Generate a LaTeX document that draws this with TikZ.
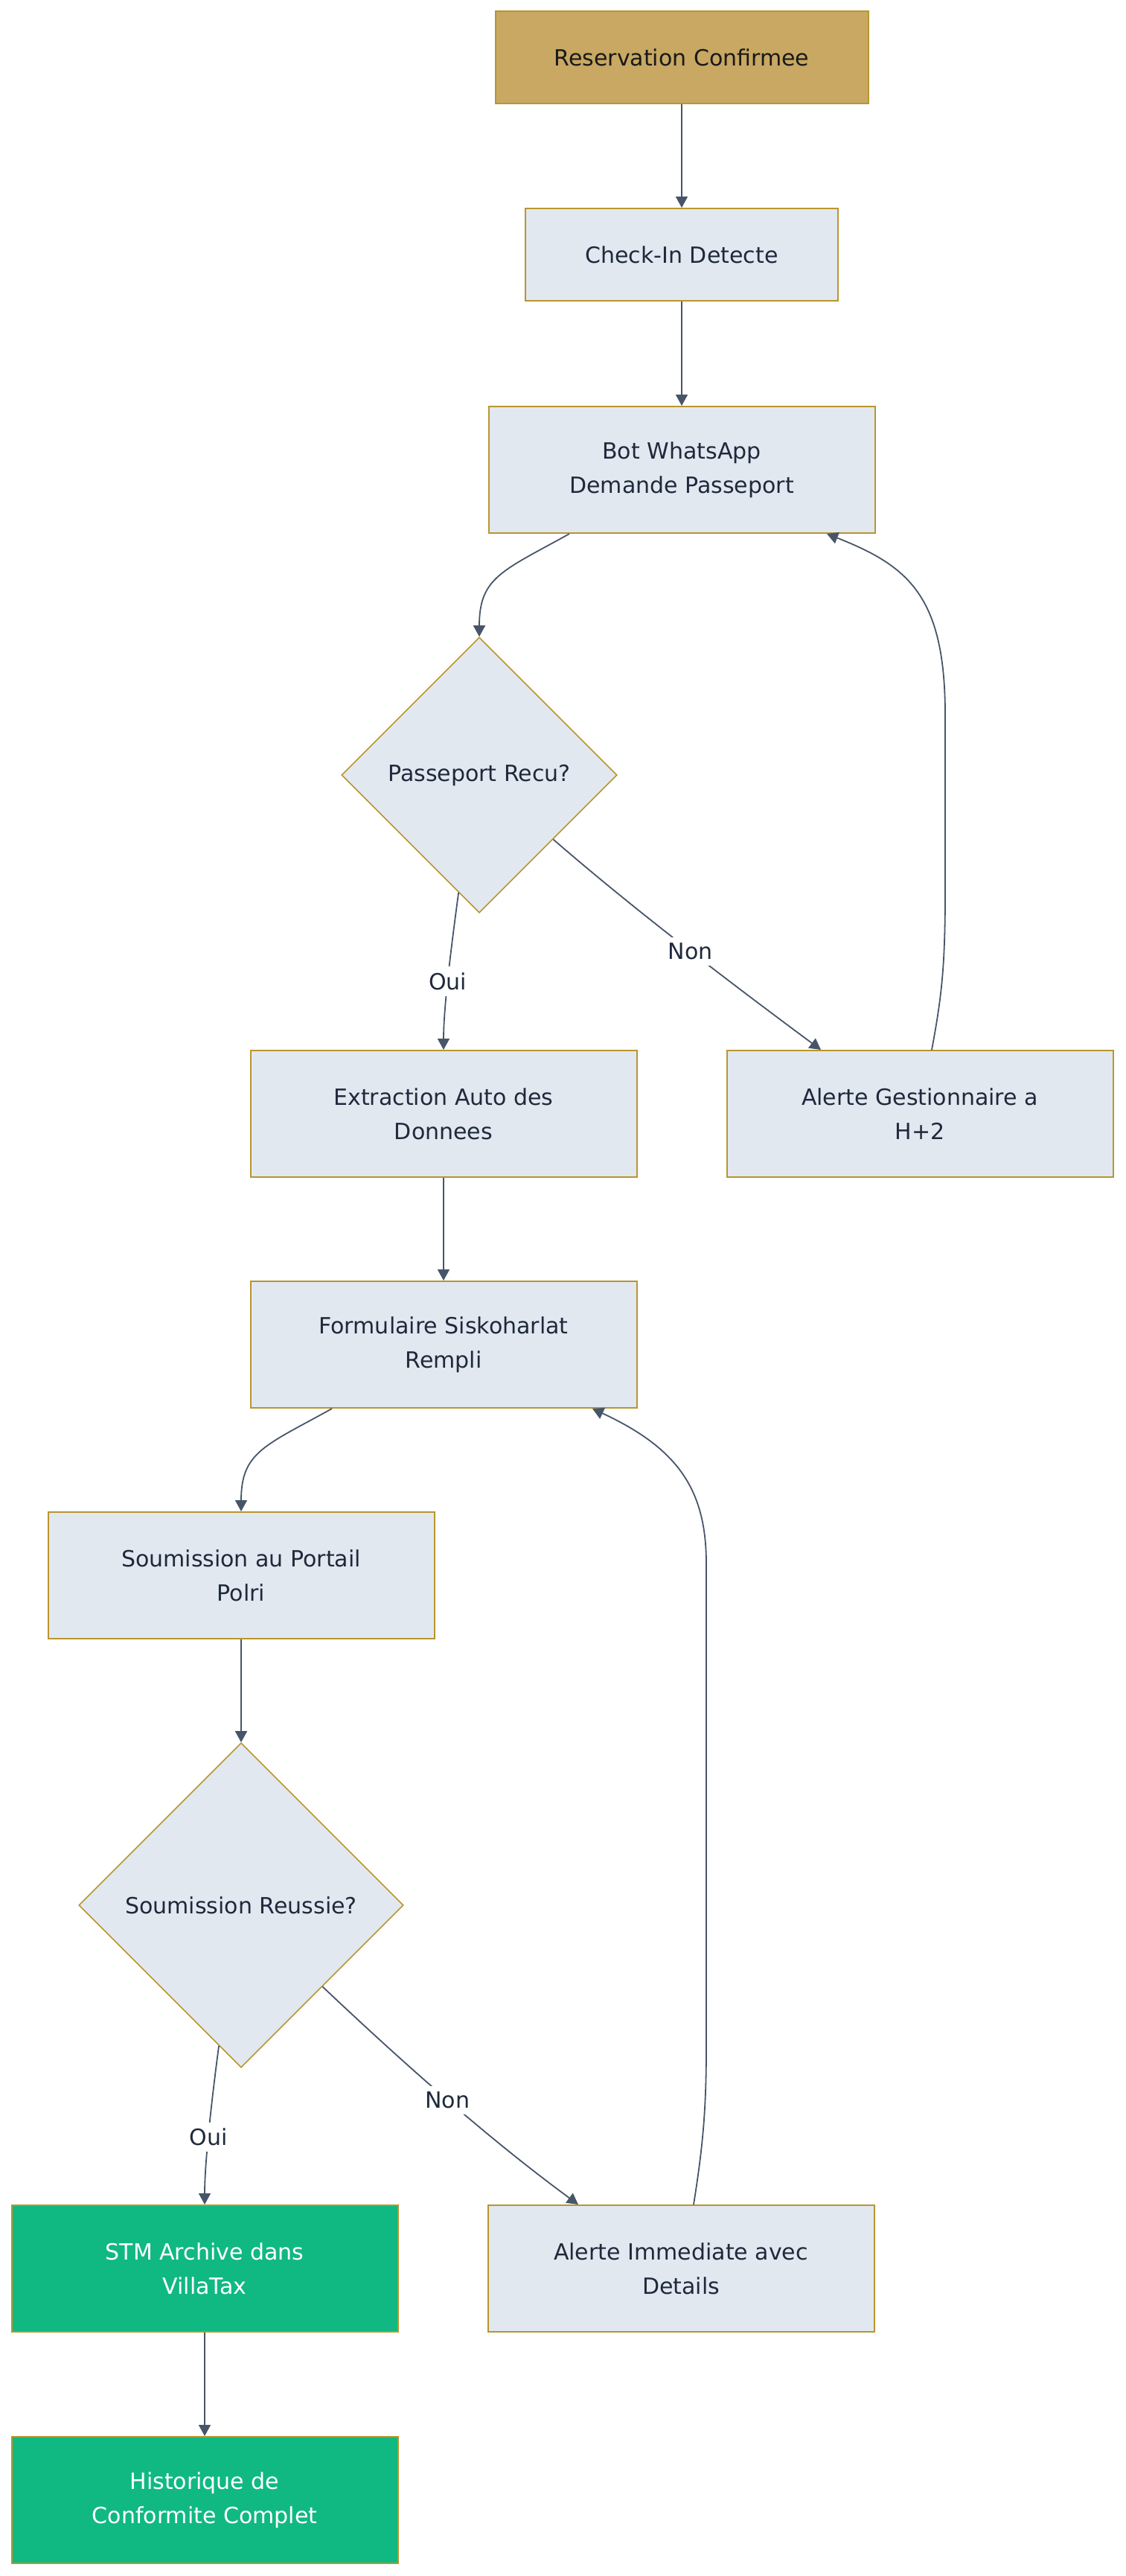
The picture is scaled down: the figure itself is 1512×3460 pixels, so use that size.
\documentclass[tikz,border=0pt]{standalone}
\usepackage{fontspec}
\setmainfont{DejaVu Sans}
\usetikzlibrary{shapes.geometric,arrows.meta,calc}
\definecolor{boxfill}{HTML}{E2E8F0}
\definecolor{boxdraw}{HTML}{B8962E}
\definecolor{resfill}{HTML}{C8A862}
\definecolor{greenfill}{HTML}{10B981}
\definecolor{edgecol}{HTML}{475569}
\definecolor{txt}{HTML}{1E293B}
\tikzset{
  base/.style={draw=boxdraw, line width=1pt, inner sep=0pt, align=center,
    font=\fontsize{15}{23}\selectfont, text=txt},
  procbox/.style={base, rectangle, fill=boxfill, minimum width=259.5pt, minimum height=85pt},
  startbox/.style={base, rectangle, fill=resfill, text=black!90, minimum width=250.5pt, minimum height=62pt},
  smallbox/.style={base, rectangle, fill=boxfill, minimum width=210pt, minimum height=62pt},
  donebox/.style={base, rectangle, fill=greenfill, text=white, minimum width=259.5pt, minimum height=85pt},
  decision/.style={base, diamond, aspect=1, fill=boxfill, line width=0.8pt},
  conn/.style={draw=edgecol, line width=0.9pt, -{Triangle[length=7.5pt,width=8pt]}},
  lbl/.style={fill=white, text=txt, font=\fontsize{15}{18}\selectfont, inner xsep=3pt, inner ysep=4pt}
}
\begin{document}
\begin{tikzpicture}[x=0.5pt,y=-0.5pt]
\useasboundingbox (0,0) rectangle (1512,3460);
% nodes
\node[startbox] (res) at (916,77) {Reservation Confirmee};
\node[smallbox] (chk) at (916,342) {Check-In Detecte};
\node[procbox] (bot) at (916,631) {Bot WhatsApp\\Demande Passeport};
\node[decision, minimum width=185pt, minimum height=185pt] (d1) at (644,1041) {Passeport Recu?};
\node[procbox] (ext) at (596,1496) {Extraction Auto des\\Donnees};
\node[procbox] (ag) at (1236,1496) {Alerte Gestionnaire a\\H+2};
\node[procbox] (form) at (596,1806) {Formulaire Siskoharlat\\Rempli};
\node[procbox] (soum) at (324,2116) {Soumission au Portail\\Polri};
\node[decision, minimum width=218pt, minimum height=218pt] (d2) at (324,2559) {Soumission Reussie?};
\node[donebox] (stm) at (275,3047) {STM Archive dans\\VillaTax};
\node[procbox] (ai) at (915,3047) {Alerte Immediate avec\\Details};
\node[donebox] (hist) at (275,3358) {Historique de\\Conformite Complet};
% connectors
\draw[conn] (res.south) -- (chk.north);
\draw[conn] (chk.south) -- (bot.north);
\draw[conn] ($(bot.south)+(-151,0)$) .. controls +(-90,50) and +(0,-80) .. (d1.north);
\draw[conn] (d1.-100) .. controls +(-8,60) and +(0,-60) .. node[lbl,pos=0.56]{Oui} (ext.north);
\draw[conn] (d1.-41) .. controls +(106,92) and +(-123,-91) .. node[lbl,pos=0.53]{Non} ($(ag.north)+(-133,0)$);
\draw[conn] ($(ag.north)+(16,0)$) .. controls (1265,1340) and (1270,1300) .. (1270,1200)
  -- (1270,960) .. controls (1270,800) and (1220,760) .. ($(bot.south)+(195,0)$);
\draw[conn] (ext.south) -- (form.north);
\draw[conn] ($(form.south)+(-150,0)$) .. controls +(-90,50) and +(0,-80) .. (soum.north);
\draw[conn] (soum.south) -- (d2.north);
\draw[conn] (d2.-99) .. controls +(-8,60) and +(0,-60) .. node[lbl,pos=0.57]{Oui} (stm.north);
\draw[conn] (d2.-45) .. controls +(110,104) and +(-120,-88) .. node[lbl,pos=0.5]{Non} ($(ai.north)+(-138,0)$);
\draw[conn] ($(ai.north)+(17,0)$) .. controls (945,2880) and (949,2830) .. (949,2750)
  -- (949,2100) .. controls (949,2000) and (910,1945) .. ($(form.south)+(200,0)$);
\draw[conn] (stm.south) -- (hist.north);
\end{tikzpicture}
\end{document}
